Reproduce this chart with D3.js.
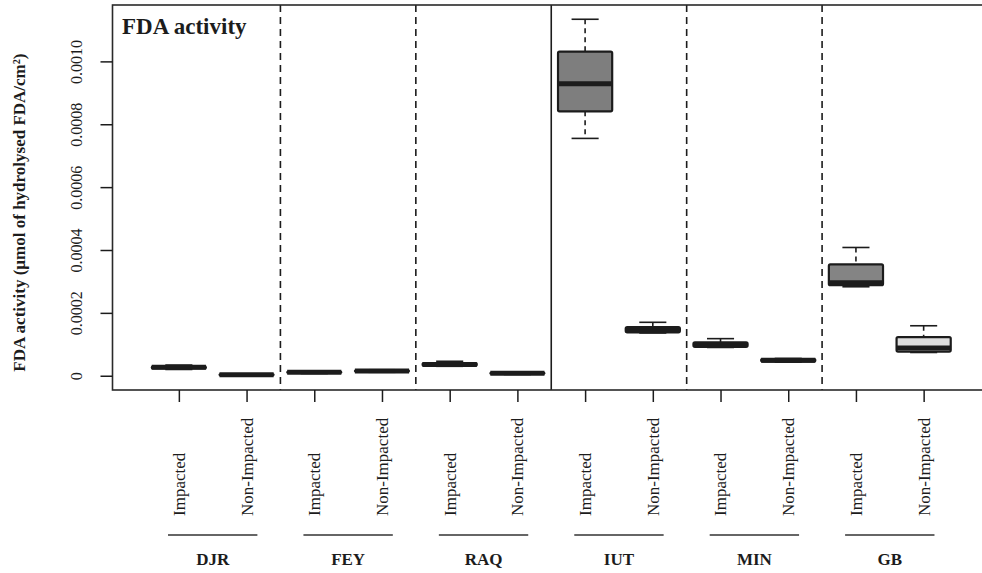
<!DOCTYPE html>
<html>
<head>
<meta charset="utf-8">
<script src="https://cdn.jsdelivr.net/npm/d3@7"></script>
<style>
  html, body { margin: 0; padding: 0; background: #fff; }
  svg { display: block; font-family: "Liberation Serif", "Times New Roman", serif; }
</style>
</head>
<body>
<svg id="chart" width="982" height="573"></svg>
<script>
// ---- data ----
const sites = ["DJR", "FEY", "RAQ", "IUT", "MIN", "GB"];
const conditions = ["Impacted", "Non-Impacted"];
const whiskerLow  = [2.0e-5, 0.0,    7e-6,   1.1e-5, 3.0e-5, 4e-6,   7.55e-4, 1.36e-4, 9.0e-5,  4.3e-5, 2.83e-4, 7.4e-5];
const q1          = [2.3e-5, 1e-6,   9e-6,   1.3e-5, 3.2e-5, 6e-6,   8.41e-4, 1.38e-4, 9.2e-5,  4.5e-5, 2.88e-4, 7.7e-5];
const median      = [2.7e-5, 3e-6,   1.1e-5, 1.5e-5, 3.6e-5, 8e-6,   9.29e-4, 1.46e-4, 9.9e-5,  4.9e-5, 2.96e-4, 8.8e-5];
const q3          = [3.0e-5, 5e-6,   1.3e-5, 1.7e-5, 4.0e-5, 1.0e-5, 1.031e-3, 1.55e-4, 1.06e-4, 5.3e-5, 3.54e-4, 1.23e-4];
const whiskerHigh = [3.4e-5, 6e-6,   1.4e-5, 1.9e-5, 4.6e-5, 1.1e-5, 1.134e-3, 1.70e-4, 1.18e-4, 5.5e-5, 4.08e-4, 1.59e-4];
const boxFill     = ["#4a4a4a", "#4a4a4a", "#4a4a4a", "#4a4a4a", "#4a4a4a", "#4a4a4a",
                     "#7e7e7e", "#4a4a4a", "#4a4a4a", "#4a4a4a", "#848484", "#dedede"];
const yTicks = [0, 0.0002, 0.0004, 0.0006, 0.0008, 0.0010];
const yTickLabels = ["0", "0.0002", "0.0004", "0.0006", "0.0008", "0.0010"];
const title = "FDA activity";
const yLabel = "FDA activity (\u00b5mol of hydrolysed FDA/cm\u00b2)";
const solidDividers = [6.5];
const dashedDividers = [2.5, 4.5, 8.5, 10.5];

// ---- layout ----
const plot = { left: 112.5, right: 990, top: 5, bottom: 390 };
const n = sites.length * conditions.length;
const boxes = d3.range(n).map(i => ({
  pos: i + 1,
  site: sites[Math.floor(i / 2)],
  cond: conditions[i % 2],
  lo: whiskerLow[i], q1: q1[i], med: median[i], q3: q3[i], hi: whiskerHigh[i],
  fill: boxFill[i]
}));

const dataMax = d3.max(whiskerHigh), dataMin = d3.min(whiskerLow);
const ypad = (dataMax - dataMin) * 0.04;
const y = d3.scaleLinear().domain([dataMin - ypad, dataMax + ypad]).range([plot.bottom, plot.top]);
const xpad = n * 0.04;
const x = d3.scaleLinear().domain([0.5 - xpad, n + 0.5 + xpad]).range([plot.left, plot.right]);
const unit = x(1) - x(0);
const boxW = 0.8 * unit;
const capW = boxW * 0.5;

const svg = d3.select("#chart");
const ink = "#1c1c1c";

// dividers
const g = svg.append("g");
g.selectAll("line.dash").data(dashedDividers).join("line")
  .attr("x1", d => x(d)).attr("x2", d => x(d))
  .attr("y1", plot.top).attr("y2", plot.bottom)
  .attr("stroke", ink).attr("stroke-width", 1.6).attr("stroke-dasharray", "7,5");
g.selectAll("line.solid").data(solidDividers).join("line")
  .attr("x1", d => x(d)).attr("x2", d => x(d))
  .attr("y1", plot.top).attr("y2", plot.bottom)
  .attr("stroke", ink).attr("stroke-width", 1.6);

// boxes
const bx = svg.append("g").selectAll("g").data(boxes).join("g");
bx.append("line") // upper whisker
  .attr("x1", d => x(d.pos)).attr("x2", d => x(d.pos))
  .attr("y1", d => y(d.hi)).attr("y2", d => y(d.q3))
  .attr("stroke", ink).attr("stroke-width", 1.6).attr("stroke-dasharray", "5,4");
bx.append("line") // lower whisker
  .attr("x1", d => x(d.pos)).attr("x2", d => x(d.pos))
  .attr("y1", d => y(d.q1)).attr("y2", d => y(d.lo))
  .attr("stroke", ink).attr("stroke-width", 1.6).attr("stroke-dasharray", "5,4");
bx.append("line") // upper cap
  .attr("x1", d => x(d.pos) - capW / 2).attr("x2", d => x(d.pos) + capW / 2)
  .attr("y1", d => y(d.hi)).attr("y2", d => y(d.hi))
  .attr("stroke", ink).attr("stroke-width", 1.6);
bx.append("line") // lower cap
  .attr("x1", d => x(d.pos) - capW / 2).attr("x2", d => x(d.pos) + capW / 2)
  .attr("y1", d => y(d.lo)).attr("y2", d => y(d.lo))
  .attr("stroke", ink).attr("stroke-width", 1.6);
bx.append("rect")
  .attr("x", d => x(d.pos) - boxW / 2).attr("width", boxW)
  .attr("y", d => y(d.q3)).attr("height", d => Math.max(0, y(d.q1) - y(d.q3)))
  .attr("fill", d => d.fill).attr("stroke", ink).attr("stroke-width", 2.2)
  .attr("rx", 1.5);
bx.append("line") // median
  .attr("x1", d => x(d.pos) - boxW / 2).attr("x2", d => x(d.pos) + boxW / 2)
  .attr("y1", d => y(d.med)).attr("y2", d => y(d.med))
  .attr("stroke", ink).attr("stroke-width", 5);

// plot frame
svg.append("rect")
  .attr("x", plot.left).attr("y", plot.top)
  .attr("width", plot.right - plot.left).attr("height", plot.bottom - plot.top)
  .attr("fill", "none").attr("stroke", "#2a2a2a").attr("stroke-width", 1.6);

// y axis
const yAxis = svg.append("g").attr("transform", `translate(${plot.left},0)`)
  .call(d3.axisLeft(y).tickValues(yTicks).tickSize(12).tickFormat((d, i) => yTickLabels[i]));
yAxis.select(".domain").remove();
yAxis.selectAll(".tick line").attr("stroke", ink).attr("stroke-width", 1.5);
yAxis.selectAll(".tick text")
  .attr("x", 0).attr("y", 0).attr("dy", 0)
  .attr("transform", "translate(-31,0) rotate(-90)")
  .attr("text-anchor", "middle")
  .attr("font-size", 16).attr("fill", ink)
  .style("font-family", "'Liberation Serif', serif");

// x axis
const xAxis = svg.append("g").attr("transform", `translate(0,${plot.bottom})`)
  .call(d3.axisBottom(x).tickValues(boxes.map(d => d.pos)).tickSize(12).tickFormat(""));
xAxis.select(".domain").remove();
xAxis.selectAll(".tick line").attr("stroke", ink).attr("stroke-width", 1.5);

// condition labels
svg.append("g").selectAll("text").data(boxes).join("text")
  .attr("transform", d => `translate(${x(d.pos)},516) rotate(-90)`)
  .attr("dy", "0.35em")
  .attr("text-anchor", "start")
  .attr("font-size", 17).attr("fill", ink)
  .text(d => d.cond);

// site group lines and labels
const groups = sites.map((s, i) => ({ site: s, a: 2 * i + 1, b: 2 * i + 2 }));
svg.append("g").selectAll("line").data(groups).join("line")
  .attr("x1", d => x(d.a - 0.16)).attr("x2", d => x(d.b + 0.16))
  .attr("y1", 535).attr("y2", 535)
  .attr("stroke", "#333").attr("stroke-width", 1.6);
svg.append("g").selectAll("text").data(groups).join("text")
  .attr("x", d => x((d.a + d.b) / 2)).attr("y", 565)
  .attr("text-anchor", "middle")
  .attr("font-size", 17).attr("font-weight", "bold").attr("fill", ink)
  .text(d => d.site);

// title
svg.append("text").attr("x", 122).attr("y", 34)
  .attr("font-size", 23).attr("font-weight", "bold").attr("fill", ink)
  .text(title);

// y label
svg.append("text")
  .attr("transform", `translate(25,${(y(0) + y(0.0010)) / 2 - 6}) rotate(-90)`)
  .attr("text-anchor", "middle")
  .attr("font-size", 17).attr("font-weight", "bold").attr("fill", ink)
  .text(yLabel);
</script>
</body>
</html>
